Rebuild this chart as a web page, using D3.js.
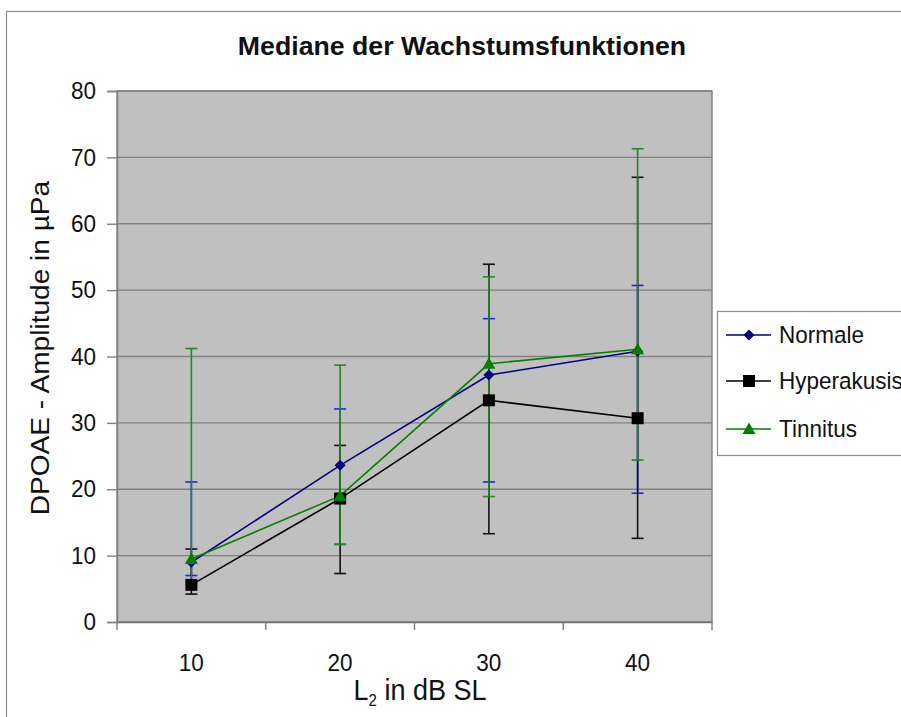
<!DOCTYPE html>
<html>
<head>
<meta charset="utf-8">
<script src="https://cdn.jsdelivr.net/npm/d3@7"></script>
<style>
  html, body { margin: 0; padding: 0; background: #ffffff; }
  svg { display: block; }
  text { font-family: "Liberation Sans", Arial, sans-serif; fill: #111; }
</style>
</head>
<body>
<svg id="chart" width="901" height="717"></svg>
<script>
// Level categories (L2 in dB SL)
const levels = ["10", "20", "30", "40"];
const yTicks = [0, 10, 20, 30, 40, 50, 60, 70, 80];

// Median amplitudes (µPa) per group with lower / upper error limits
const normaleMedian     = [9.0, 23.6, 37.2, 40.8];
const normaleLow        = [7.0, 11.7, 21.1, 19.4];
const normaleHigh       = [21.1, 32.1, 45.7, 50.7];

const hyperakusisMedian = [5.6, 18.6, 33.4, 30.7];
const hyperakusisLow    = [4.2, 7.3, 13.3, 12.6];
const hyperakusisHigh   = [11.0, 26.6, 53.9, 67.0];

const tinnitusMedian    = [9.5, 19.0, 38.9, 41.1];
const tinnitusLow       = [5.5, 11.7, 18.9, 24.4];
const tinnitusHigh      = [41.2, 38.7, 52.0, 71.3];

const seriesNames = ["Normale", "Hyperakusis", "Tinnitus"];

const series = [
  { name: seriesNames[0], med: normaleMedian, lo: normaleLow, hi: normaleHigh,
    line: "#000080", err: "#1f1fff", marker: "diamond" },
  { name: seriesNames[1], med: hyperakusisMedian, lo: hyperakusisLow, hi: hyperakusisHigh,
    line: "#000000", err: "#111111", marker: "square" },
  { name: seriesNames[2], med: tinnitusMedian, lo: tinnitusLow, hi: tinnitusHigh,
    line: "#008000", err: "#1f8a1f", marker: "triangle" }
];

const svg = d3.select("#chart");
const SY = 1.06; // slight vertical stretch of glyphs

const plot = { left: 117, right: 712, top: 91, bottom: 622 };

const x = d3.scaleBand().domain(levels).range([plot.left, plot.right]).padding(0);
const y = d3.scaleLinear().domain([0, 80]).range([plot.bottom, plot.top]);
const cx = d => x(d) + x.bandwidth() / 2;

function label(g, tx, ty, str, opts = {}) {
  const sy = opts.sy !== undefined ? opts.sy : SY;
  const scale = opts.rotate ? `scale(${sy},1)` : `scale(1,${sy})`;
  return g.append("text")
    .attr("transform", `translate(${tx},${ty}) rotate(${opts.rotate || 0}) ${scale}`)
    .attr("text-anchor", opts.anchor || "middle")
    .attr("dominant-baseline", opts.baseline || "auto")
    .style("font-size", (opts.size || 22.5) + "px")
    .style("font-weight", opts.weight || "normal")
    .text(str);
}

// Outer chart frame
svg.append("rect")
  .attr("x", 6.5).attr("y", 11.5)
  .attr("width", 1000).attr("height", 800)
  .attr("fill", "#fff").attr("stroke", "#8c8c8c").attr("stroke-width", 1.2);

// Plot background
svg.append("rect")
  .attr("x", plot.left).attr("y", plot.top)
  .attr("width", plot.right - plot.left).attr("height", plot.bottom - plot.top)
  .attr("fill", "#c0c0c0");

// Horizontal gridlines
svg.append("g").selectAll("line")
  .data(yTicks.filter(v => v > 0))
  .join("line")
  .attr("x1", plot.left).attr("x2", plot.right)
  .attr("y1", d => y(d)).attr("y2", d => y(d))
  .attr("stroke", "#808080").attr("stroke-width", 1.4);

// Plot border
svg.append("rect")
  .attr("x", plot.left).attr("y", plot.top)
  .attr("width", plot.right - plot.left).attr("height", plot.bottom - plot.top)
  .attr("fill", "none").attr("stroke", "#808080").attr("stroke-width", 1.4);

// Y axis
const yAxis = svg.append("g")
  .attr("transform", `translate(${plot.left},0)`)
  .call(d3.axisLeft(y).tickValues(yTicks).tickSize(10).tickFormat(""));
yAxis.select(".domain").attr("stroke", "#808080").attr("stroke-width", 1.4);
yAxis.selectAll(".tick line").attr("stroke", "#808080").attr("stroke-width", 1.4);
yTicks.forEach(v => label(svg, 96, y(v), String(v), { anchor: "end", baseline: "central" }));

// X axis (ticks on category boundaries)
const xAxis = svg.append("g")
  .attr("transform", `translate(0,${plot.bottom})`)
  .call(d3.axisBottom(x).tickSize(0).tickFormat(""));
xAxis.select(".domain").attr("stroke", "#6e6e6e").attr("stroke-width", 1.6);
xAxis.selectAll(".tick").remove();
const bounds = levels.map(d => x(d)).concat([plot.right]);
xAxis.selectAll("line.bt").data(bounds).join("line")
  .attr("class", "bt")
  .attr("x1", d => d).attr("x2", d => d).attr("y1", 0).attr("y2", 8)
  .attr("stroke", "#808080").attr("stroke-width", 1.4);
levels.forEach(d => label(svg, cx(d), 663, d, { baseline: "central" }));

// Axis titles
const xt = svg.append("text")
  .attr("transform", `translate(420,700) scale(1,${SY})`)
  .attr("text-anchor", "middle")
  .style("font-size", "27px");
xt.append("tspan").text("L");
xt.append("tspan").attr("dy", 6).style("font-size", "15px").text("2");
xt.append("tspan").attr("dy", -6).text(" in dB SL");

label(svg, 40, 348, "DPOAE - Amplitude in µPa",
  { rotate: -90, size: 26, baseline: "central", sy: 1.08 });

// Title
label(svg, 462, 55, "Mediane der Wachstumsfunktionen", { size: 26.7, weight: "bold", sy: 1.0 });

// Error bars
const capW = 6;
const errG = svg.append("g");
series.forEach(s => {
  const g = errG.append("g");
  levels.forEach((lv, i) => {
    const xc = cx(lv);
    g.append("line").attr("x1", xc).attr("x2", xc)
      .attr("y1", y(s.lo[i])).attr("y2", y(s.hi[i]))
      .attr("stroke", s.err).attr("stroke-width", 1.6);
    [s.lo[i], s.hi[i]].forEach(v => {
      g.append("line").attr("x1", xc - capW).attr("x2", xc + capW)
        .attr("y1", y(v)).attr("y2", y(v))
        .attr("stroke", s.err).attr("stroke-width", 1.6);
    });
  });
});

// Series lines
const lineGen = d3.line().x((d, i) => cx(levels[i])).y(d => y(d));
series.forEach(s => {
  svg.append("path").datum(s.med)
    .attr("d", lineGen)
    .attr("fill", "none").attr("stroke", s.line).attr("stroke-width", 1.6);
});

// Marker shapes
function markerPath(type) {
  if (type === "diamond") return "M0,-5.5L5.5,0L0,5.5L-5.5,0Z";
  if (type === "square") return "M-6,-6H6V6H-6Z";
  return "M0,-6.5L6.5,5L-6.5,5Z";
}
series.forEach(s => {
  svg.append("g").selectAll("path")
    .data(s.med)
    .join("path")
    .attr("d", markerPath(s.marker))
    .attr("transform", (d, i) => `translate(${cx(levels[i])},${y(d)})`)
    .attr("fill", s.line);
});

// Legend
const leg = svg.append("g");
leg.append("rect")
  .attr("x", 717.5).attr("y", 311.5).attr("width", 300).attr("height", 144)
  .attr("fill", "#fff").attr("stroke", "#8c8c8c").attr("stroke-width", 1.2);
const legY = [335, 381, 429];
series.forEach((s, i) => {
  const ly = legY[i];
  leg.append("line").attr("x1", 726).attr("x2", 771).attr("y1", ly).attr("y2", ly)
    .attr("stroke", s.line).attr("stroke-width", 1.6);
  leg.append("path").attr("d", markerPath(s.marker))
    .attr("transform", `translate(749,${ly})`).attr("fill", s.line);
  label(leg, 779, ly, s.name, { anchor: "start", baseline: "central" });
});
</script>
</body>
</html>
